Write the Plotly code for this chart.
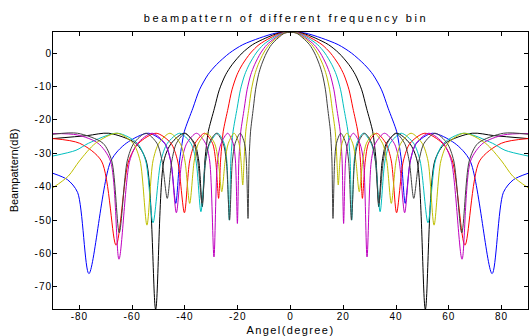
import plotly.graph_objects as go

# ---- data (angle in degrees, level in dB) ----
blue_deg = [-90, -84.51, -80.68, -76.4, -68.08, -62.25, -53.8, -47.74, -45.39, -43.48, -42.04, -41.07, -40.2, -37.0, -34.5, -31.3, -28.1, -23.1, -18.1, -11.7, -5.4,
            0, 5.4, 11.7, 18.1, 23.1, 28.1, 31.3, 34.5, 37.0, 40.2, 41.07, 42.04, 43.48, 45.39, 47.74, 53.8, 62.25, 68.08, 76.4, 80.68, 84.51, 90]
blue_db = [-36.0, -37.9, -41.7, -66.0, -32.3, -27.0, -24.0, -27.0, -32.3, -45.0, -32.3, -27.0, -23.4, -16.5, -11.0, -6.5, -3.5, 0.0, 2.5, 4.5, 6.0,
           6.2, 6.0, 4.5, 2.5, 0.0, -3.5, -6.5, -11.0, -16.5, -23.4, -27.0, -32.3, -45.0, -32.3, -27.0, -24.0, -27.0, -32.3, -66.0, -41.7, -37.9, -36.0]

black_deg = [-90, -77.0, -68.86, -58.68, -54.67, -51.1, -48.0, -45.15, -40.28, -36.36, -34.77, -33.45, -32.44, -31.75, -31.13, -28.82, -26.98, -24.59, -22.16, -18.32, -14.41, -9.35, -4.32,
             0, 4.32, 9.35, 14.41, 18.32, 22.16, 24.59, 26.98, 28.82, 31.13, 31.75, 32.44, 33.45, 34.77, 36.36, 40.28, 45.15, 48.0, 51.1, 54.67, 58.68, 68.86, 77.0, 90]
black_db = [-25.6, -24.7, -24.0, -27.0, -32.3, -76.7, -32.3, -27.0, -24.0, -27.0, -32.3, -46.0, -32.3, -27.0, -23.4, -16.5, -11.0, -6.5, -3.5, 0.0, 2.5, 4.5, 6.0,
            6.2, 6.0, 4.5, 2.5, 0.0, -3.5, -6.5, -11.0, -16.5, -23.4, -27.0, -32.3, -46.0, -32.3, -27.0, -24.0, -27.0, -32.3, -76.7, -32.3, -27.0, -24.0, -24.7, -25.6]

red_deg = [-90, -79.91, -71.64, -66.1, -61.34, -57.56, -50.91, -45.3, -42.76, -40.2, -38.2, -36.15, -32.54, -29.56, -28.33, -27.25, -26.51, -25.97, -25.48, -23.65, -22.18, -20.26, -18.3, -15.16, -11.95, -7.77, -3.6,
           0, 3.6, 7.77, 11.95, 15.16, 18.3, 20.26, 22.18, 23.65, 25.48, 25.97, 26.51, 27.25, 28.33, 29.56, 32.54, 36.15, 38.2, 40.2, 42.76, 45.3, 50.91, 57.56, 61.34, 66.1, 71.64, 79.91, 90]
red_db = [-25.6, -27.0, -32.3, -57.5, -32.3, -27.0, -24.0, -27.0, -32.3, -47.8, -32.3, -27.0, -24.0, -27.0, -32.3, -43.5, -32.3, -27.0, -23.4, -16.5, -11.0, -6.5, -3.5, 0.0, 2.5, 4.5, 6.0,
          6.2, 6.0, 4.5, 2.5, 0.0, -3.5, -6.5, -11.0, -16.5, -23.4, -27.0, -32.3, -43.5, -32.3, -27.0, -24.0, -27.0, -32.3, -47.8, -32.3, -27.0, -24.0, -27.0, -32.3, -57.5, -32.3, -27.0, -25.6]

cyan_deg = [-90, -81.29, -76.56, -65.54, -58.03, -54.86, -52.1, -49.12, -46.65, -41.97, -37.77, -35.8, -33.95, -32.19, -30.55, -27.61, -25.15, -24.13, -23.2, -22.62, -22.17, -21.76, -20.22, -18.98, -17.36, -15.69, -13.02, -10.28, -6.69, -3.1,
            0, 3.1, 6.69, 10.28, 13.02, 15.69, 17.36, 18.98, 20.22, 21.76, 22.17, 22.62, 23.2, 24.13, 25.15, 27.61, 30.55, 32.19, 33.95, 35.8, 37.77, 41.97, 46.65, 49.12, 52.1, 54.86, 58.03, 65.54, 76.56, 81.29, 90]
cyan_db = [-30.8, -29.1, -27.0, -24.0, -27.0, -32.3, -50.8, -32.3, -27.0, -24.0, -27.0, -32.3, -47.5, -32.3, -27.0, -24.0, -27.0, -32.3, -50.0, -32.3, -27.0, -23.4, -16.5, -11.0, -6.5, -3.5, 0.0, 2.5, 4.5, 6.0,
           6.2, 6.0, 4.5, 2.5, 0.0, -3.5, -6.5, -11.0, -16.5, -23.4, -27.0, -32.3, -50.0, -32.3, -27.0, -24.0, -27.0, -32.3, -47.5, -32.3, -27.0, -24.0, -27.0, -32.3, -50.8, -32.3, -27.0, -24.0, -27.0, -29.1, -30.8]

magenta_deg = [-90, -80.8, -72.93, -68.23, -65.0, -60.94, -57.9, -52.44, -47.62, -45.41, -43.25, -41.18, -39.29, -35.62, -32.23, -30.62, -29.0, -27.65, -26.27, -23.8, -21.73, -20.86, -20.13, -19.57, -19.18, -18.83, -17.52, -16.45, -15.06, -13.62, -11.32, -8.94, -5.82, -2.7,
               0, 2.7, 5.82, 8.94, 11.32, 13.62, 15.06, 16.45, 17.52, 18.83, 19.18, 19.57, 20.13, 20.86, 21.73, 23.8, 26.27, 27.65, 29.0, 30.62, 32.23, 35.62, 39.29, 41.18, 43.25, 45.41, 47.62, 52.44, 57.9, 60.94, 65.0, 68.23, 72.93, 80.8, 90]
magenta_db = [-24.1, -24.5, -27.0, -32.3, -61.7, -32.3, -27.0, -24.0, -27.0, -32.3, -47.8, -32.3, -27.0, -24.0, -27.0, -32.3, -61.0, -32.3, -27.0, -24.0, -27.0, -32.3, -51.0, -32.3, -27.0, -23.4, -16.5, -11.0, -6.5, -3.5, 0.0, 2.5, 4.5, 6.0,
              6.2, 6.0, 4.5, 2.5, 0.0, -3.5, -6.5, -11.0, -16.5, -23.4, -27.0, -32.3, -51.0, -32.3, -27.0, -24.0, -27.0, -32.3, -61.0, -32.3, -27.0, -24.0, -27.0, -32.3, -47.8, -32.3, -27.0, -24.0, -27.0, -32.3, -61.7, -32.3, -27.0, -24.5, -24.1]

yellow_deg = [-90, -84.17, -79.99, -73.89, -65.78, -59.66, -56.98, -54.4, -52.12, -49.88, -45.7, -41.83, -40.01, -38.2, -36.48, -34.87, -31.72, -28.79, -27.38, -26.05, -24.77, -23.56, -21.37, -19.52, -18.75, -18.1, -17.6, -17.26, -16.95, -15.77, -14.82, -13.57, -12.28, -10.2, -8.06, -5.25, -2.44,
              0, 2.44, 5.25, 8.06, 10.2, 12.28, 13.57, 14.82, 15.77, 16.95, 17.26, 17.6, 18.1, 18.75, 19.52, 21.37, 23.56, 24.77, 26.05, 27.38, 28.79, 31.72, 34.87, 36.48, 38.2, 40.01, 41.83, 45.7, 49.88, 52.12, 54.4, 56.98, 59.66, 65.78, 73.89, 79.99, 84.17, 90]
yellow_db = [-40.3, -36.8, -32.3, -27.0, -24.0, -27.0, -32.3, -51.5, -32.3, -27.0, -24.0, -27.0, -32.3, -45.0, -32.3, -27.0, -24.0, -27.0, -32.3, -41.5, -32.3, -27.0, -24.0, -27.0, -32.3, -39.5, -32.3, -27.0, -23.4, -16.5, -11.0, -6.5, -3.5, 0.0, 2.5, 4.5, 6.0,
             6.2, 6.0, 4.5, 2.5, 0.0, -3.5, -6.5, -11.0, -16.5, -23.4, -27.0, -32.3, -39.5, -32.3, -27.0, -24.0, -27.0, -32.3, -41.5, -32.3, -27.0, -24.0, -27.0, -32.3, -45.0, -32.3, -27.0, -24.0, -27.0, -32.3, -51.5, -32.3, -27.0, -24.0, -27.0, -32.3, -36.8, -40.3]

gray_deg = [-90, -80.72, -71.04, -67.73, -64.9, -61.88, -59.36, -54.77, -50.62, -48.67, -46.7, -44.98, -43.22, -39.86, -36.68, -35.16, -33.5, -32.17, -30.8, -28.09, -25.55, -24.32, -23.1, -22.03, -20.97, -19.05, -17.42, -16.73, -16.1, -15.71, -15.41, -15.13, -14.09, -13.24, -12.13, -10.98, -9.13, -7.22, -4.7, -2.18,
            0, 2.18, 4.7, 7.22, 9.13, 10.98, 12.13, 13.24, 14.09, 15.13, 15.41, 15.71, 16.1, 16.73, 17.42, 19.05, 20.97, 22.03, 23.1, 24.32, 25.55, 28.09, 30.8, 32.17, 33.5, 35.16, 36.68, 39.86, 43.22, 44.98, 46.7, 48.67, 50.62, 54.77, 59.36, 61.88, 64.9, 67.73, 71.04, 80.72, 90]
gray_db = [-24.3, -24.0, -27.0, -32.3, -53.8, -32.3, -27.0, -24.0, -27.0, -32.3, -43.5, -32.3, -27.0, -24.0, -27.0, -32.3, -45.0, -32.3, -27.0, -24.0, -27.0, -32.3, -50.0, -32.3, -27.0, -24.0, -27.0, -32.3, -49.5, -32.3, -27.0, -23.4, -16.5, -11.0, -6.5, -3.5, 0.0, 2.5, 4.5, 6.0,
           6.2, 6.0, 4.5, 2.5, 0.0, -3.5, -6.5, -11.0, -16.5, -23.4, -27.0, -32.3, -49.5, -32.3, -27.0, -24.0, -27.0, -32.3, -50.0, -32.3, -27.0, -24.0, -27.0, -32.3, -45.0, -32.3, -27.0, -24.0, -27.0, -32.3, -43.5, -32.3, -27.0, -24.0, -27.0, -32.3, -53.8, -32.3, -27.0, -24.0, -24.3]

series_colors = ["#0000ff", "#000000", "#ff0000", "#00bfbf", "#bf00bf", "#bfbf00", "#404040"]

x_ticks = [-80, -60, -40, -20, 0, 20, 40, 60, 80]
x_tick_labels = ["-80", "-60", "-40", "-20", "0", "20", "40", "60", "80"]
y_ticks = [0, -10, -20, -30, -40, -50, -60, -70]
y_tick_labels = ["0", "-10", "-20", "-30", "-40", "-50", "-60", "-70"]

title_text = "beampattern of different frequency bin"
x_title = "Angel(degree)"
y_title = "Beampattern(dB)"

FONT = "Liberation Sans, Arial, Helvetica, sans-serif"


def spaced(txt, px):
    return '<span style="letter-spacing:%spx">%s</span>' % (px, txt)


fig = go.Figure()
all_series = [(blue_deg, blue_db), (black_deg, black_db), (red_deg, red_db), (cyan_deg, cyan_db),
              (magenta_deg, magenta_db), (yellow_deg, yellow_db), (gray_deg, gray_db)]
for (xs, ys), col in zip(all_series, series_colors):
    assert len(xs) == len(ys)
    fig.add_trace(go.Scatter(x=xs, y=ys, mode="lines",
                             line=dict(color=col, width=1, shape="spline", smoothing=0.8),
                             showlegend=False, hoverinfo="skip"))

axis_common = dict(ticks="inside", ticklen=4, tickcolor="#000000", showline=True, linecolor="#000000",
                   linewidth=1, mirror="ticks", showgrid=False, zeroline=False, automargin=False,
                   tickfont=dict(family=FONT, size=10, color="#000000"))

fig.update_layout(
    width=531, height=336,
    margin=dict(l=53, r=3, t=32, b=27),
    paper_bgcolor="white", plot_bgcolor="white",
    font=dict(family=FONT, size=10, color="#000000"),
    title=dict(text=spaced(title_text, 2.6), x=286 / 531, xanchor="center", xref="container",
               y=1 - 18.5 / 336, yanchor="middle", yref="container",
               font=dict(family=FONT, size=11, color="#000000")),
    xaxis=dict(range=[-90, 90], tickvals=x_ticks, ticktext=[spaced(t, 1) for t in x_tick_labels],
               ticklabelstandoff=-2,
               title=dict(text=spaced(x_title, 1.4), standoff=5,
                          font=dict(family=FONT, size=11, color="#000000")),
               **axis_common),
    yaxis=dict(range=[-76.6, 6.3], tickvals=y_ticks, ticktext=[spaced(t, 1) for t in y_tick_labels],
               ticklabelstandoff=-2,
               title=dict(text=y_title, standoff=13,
                          font=dict(family=FONT, size=11, color="#000000")),
               **axis_common),
)

fig.write_html("out.html", config={"displayModeBar": False},
               post_script="document.body.style.margin='0px';document.body.style.padding='0px';")
